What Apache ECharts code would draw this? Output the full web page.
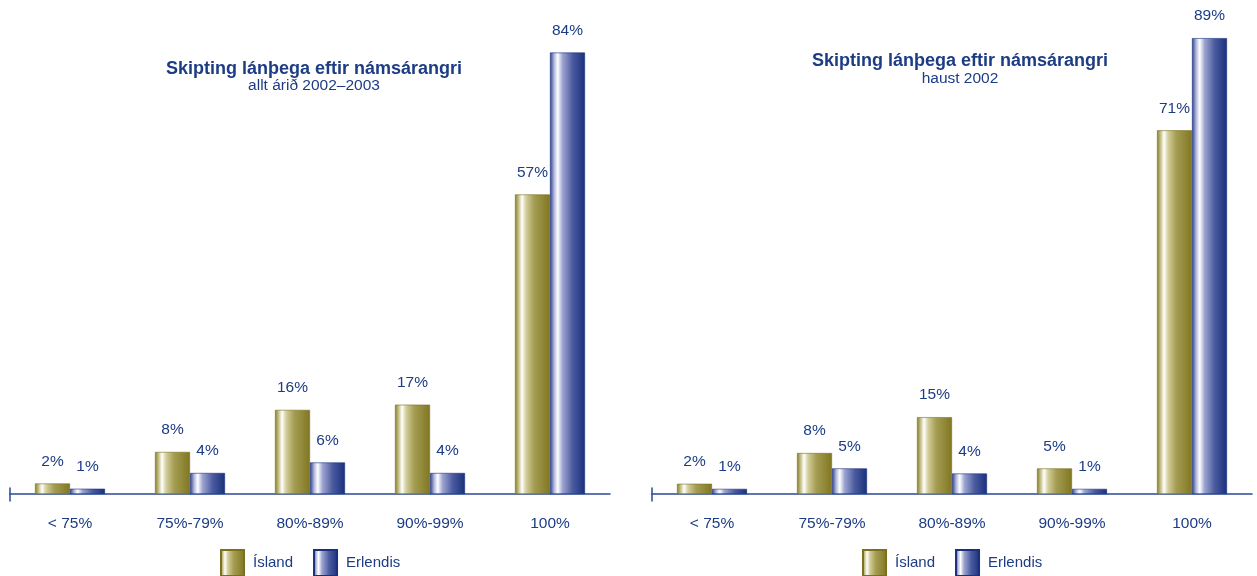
<!DOCTYPE html>
<html><head><meta charset="utf-8">
<script src="https://cdn.jsdelivr.net/npm/echarts@6/dist/echarts.min.js"></script>
<style>html,body{margin:0;padding:0;background:#fff}#c{width:1257px;height:576px}</style>
</head><body><div id="c"></div>
<script>
const categories = ['< 75%', '75%-79%', '80%-89%', '90%-99%', '100%'];
const islandYear = [2, 8, 16, 17, 57];
const erlendisYear = [1, 4, 6, 4, 84];
const islandAutumn = [2, 8, 15, 5, 71];
const erlendisAutumn = [1, 5, 4, 1, 89];
const seriesNames = ['Ísland', 'Erlendis'];
const titleMain = 'Skipting lánþega eftir námsárangri';
const subYear = 'allt árið 2002–2003';
const subAutumn = 'haust 2002';

const NAVY = '#1c3c84';
const AXIS = '#2a4a92';
const FONT = "'Liberation Sans', Arial, sans-serif";

const olive = new echarts.graphic.LinearGradient(0, 0, 1, 0, [
  {offset: 0, color: '#857b2a'},
  {offset: 0.1, color: '#c4bf84'},
  {offset: 0.2, color: '#ffffff'},
  {offset: 0.32, color: '#d2cd9a'},
  {offset: 0.55, color: '#a49c52'},
  {offset: 1, color: '#807622'}
]);
const navy = new echarts.graphic.LinearGradient(0, 0, 1, 0, [
  {offset: 0, color: '#2a3d8a'},
  {offset: 0.12, color: '#b4b9dc'},
  {offset: 0.22, color: '#ffffff'},
  {offset: 0.36, color: '#9ca4cf'},
  {offset: 0.65, color: '#4a5a9f'},
  {offset: 1, color: '#1a307c'}
]);

function bar(name, data, idx, color, border) {
  return {
    type: 'bar', name: name, data: data, xAxisIndex: idx, yAxisIndex: idx,
    barWidth: 35, barGap: '0%',
    itemStyle: {color: color, borderColor: border, borderWidth: 0.6},
    label: {show: true, position: 'top', distance: 14, formatter: '{c}%',
            color: NAVY, fontSize: 15.5, fontFamily: FONT},
    emphasis: {disabled: true}
  };
}
function xAx(grid) {
  return {
    type: 'category', data: categories, gridIndex: grid, position: 'bottom',
    axisLine: {show: true, lineStyle: {color: AXIS, width: 1.5}},
    axisTick: {show: false},
    axisLabel: {show: true, margin: 22, color: NAVY, fontSize: 15.5, fontFamily: FONT}
  };
}
function tickX(grid) {
  return {type: 'value', gridIndex: grid, show: false, min: 0, max: 1};
}
function tickY(grid) {
  return {type: 'value', gridIndex: grid, min: 0, max: 1, show: true,
          axisLine: {show: true, lineStyle: {color: AXIS, width: 1.5}},
          axisTick: {show: false}, axisLabel: {show: false}, splitLine: {show: false}};
}
function leg(left) {
  return {
    data: seriesNames, left: left, top: 544, orient: 'horizontal',
    itemWidth: 23, itemHeight: 26, itemGap: 20, icon: 'rect',
    textStyle: {color: NAVY, fontSize: 15, fontFamily: FONT, padding: [0, 0, 0, 4]},
    selectedMode: false
  };
}
const titleStyle = {color: NAVY, fontSize: 18, fontWeight: 'bold', fontFamily: FONT};
const subStyle = {color: NAVY, fontSize: 15.5, fontFamily: FONT};
const chart = echarts.init(document.getElementById('c'), null, {renderer: 'canvas'});
chart.setOption({
  animation: false,
  backgroundColor: '#ffffff',
  title: [
    {text: titleMain, subtext: subYear, left: 309, top: 55, textAlign: 'center', itemGap: 0,
     textStyle: titleStyle, subtextStyle: subStyle},
    {text: titleMain, subtext: subAutumn, left: 955, top: 47, textAlign: 'center', itemGap: 1,
     textStyle: titleStyle, subtextStyle: subStyle}
  ],
  legend: [leg(215), leg(857)],
  grid: [
    {left: 10, width: 600, top: 21, height: 473},
    {left: 652, width: 600, top: 33, height: 461},
    {left: 10, width: 600, top: 488, height: 13},
    {left: 652, width: 600, top: 488, height: 13}
  ],
  xAxis: [xAx(0), xAx(1), tickX(2), tickX(3)],
  yAxis: [
    {type: 'value', gridIndex: 0, min: 0, max: 90, show: false},
    {type: 'value', gridIndex: 1, min: 0, max: 90, show: false},
    tickY(2), tickY(3)
  ],
  series: [
    bar(seriesNames[0], islandYear, 0, olive, '#7a7020'),
    bar(seriesNames[1], erlendisYear, 0, navy, '#1a307c'),
    bar(seriesNames[0], islandAutumn, 1, olive, '#7a7020'),
    bar(seriesNames[1], erlendisAutumn, 1, navy, '#1a307c')
  ]
});
</script></body></html>
